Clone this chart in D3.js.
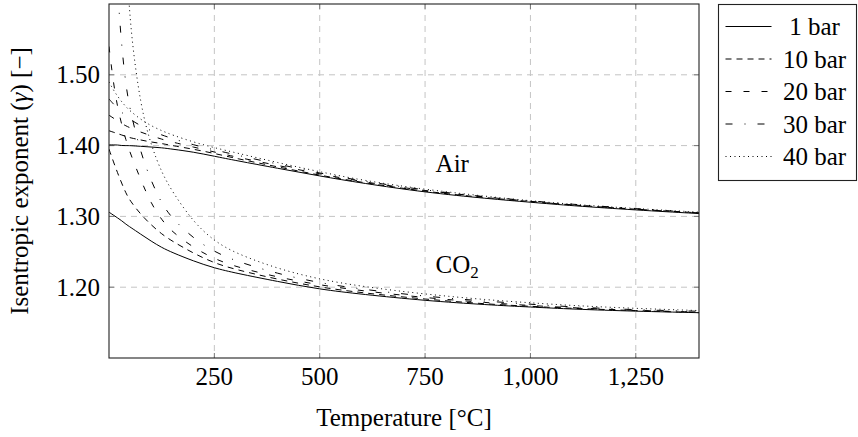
<!DOCTYPE html>
<html>
<head>
<meta charset="utf-8">
<script src="https://cdn.jsdelivr.net/npm/d3@7"></script>
<style>
    html, body { margin: 0; padding: 0; background: #fff; }
    svg text { font-family: "Liberation Serif", "DejaVu Serif", serif; }
</style>
</head>
<body>
<div id="app"></div>
<script>
// temperature grid [°C]
const temps = [0, 10, 20, 30, 40, 50, 75, 100, 125, 150, 200, 250, 300, 400, 500, 600, 750, 900, 1000, 1100, 1250, 1400];

// isentropic exponent of air
const air1 = [1.401, 1.401, 1.401, 1.400, 1.400, 1.400, 1.399, 1.398, 1.397, 1.395, 1.391, 1.385, 1.379, 1.368, 1.357, 1.347, 1.334, 1.325, 1.320, 1.315, 1.309, 1.304];
const air10 = [1.421, 1.419, 1.417, 1.415, 1.413, 1.411, 1.408, 1.405, 1.403, 1.400, 1.395, 1.389, 1.382, 1.370, 1.358, 1.348, 1.335, 1.326, 1.321, 1.316, 1.310, 1.305];
const air20 = [1.443, 1.439, 1.435, 1.431, 1.428, 1.425, 1.419, 1.414, 1.409, 1.405, 1.398, 1.391, 1.384, 1.372, 1.360, 1.349, 1.336, 1.327, 1.321, 1.316, 1.310, 1.305];
const air30 = [1.466, 1.459, 1.453, 1.447, 1.442, 1.437, 1.428, 1.421, 1.415, 1.410, 1.401, 1.394, 1.387, 1.374, 1.361, 1.350, 1.337, 1.327, 1.322, 1.317, 1.311, 1.305];
const air40 = [1.490, 1.479, 1.470, 1.462, 1.455, 1.449, 1.437, 1.428, 1.421, 1.415, 1.405, 1.397, 1.390, 1.376, 1.363, 1.351, 1.338, 1.328, 1.322, 1.317, 1.311, 1.306];

// isentropic exponent of CO2 (null = not in the data)
const co2_1 = [1.306, 1.302, 1.298, 1.294, 1.289, 1.285, 1.275, 1.265, 1.256, 1.249, 1.237, 1.227, 1.220, 1.208, 1.197, 1.190, 1.181, 1.175, 1.172, 1.169, 1.166, 1.164];
const co2_10 = [1.395, 1.378, 1.362, 1.347, 1.333, 1.322, 1.303, 1.288, 1.275, 1.265, 1.248, 1.234, 1.225, 1.211, 1.200, 1.192, 1.183, 1.176, 1.173, 1.170, 1.167, 1.164];
const co2_20 = [1.540, 1.490, 1.455, 1.430, 1.408, 1.390, 1.352, 1.318, 1.295, 1.278, 1.256, 1.240, 1.229, 1.214, 1.203, 1.195, 1.185, 1.178, 1.174, 1.171, 1.167, 1.165];
const co2_30 = [null, 1.750, 1.620, 1.540, 1.485, 1.450, 1.390, 1.350, 1.318, 1.297, 1.269, 1.250, 1.237, 1.219, 1.206, 1.197, 1.187, 1.180, 1.176, 1.172, 1.168, 1.166];
const co2_40 = [null, null, null, null, 1.680, 1.565, 1.455, 1.400, 1.362, 1.335, 1.292, 1.265, 1.248, 1.226, 1.211, 1.201, 1.190, 1.182, 1.178, 1.174, 1.170, 1.167];

const pressures = ["1 bar", "10 bar", "20 bar", "30 bar", "40 bar"];
const dashes = [null, "6,5", "6,12", "7,12,1,12", "1,3.5"];
const xTicks = [250, 500, 750, 1000, 1250];
const yTicks = [1.2, 1.3, 1.4, 1.5];

const airSeries = [air1, air10, air20, air30, air40];
const co2Series = [co2_1, co2_10, co2_20, co2_30, co2_40];

// dimensions
const W = 858, H = 437;
const margin = { top: 4, right: 159, bottom: 79, left: 109 };
const width = W - margin.left - margin.right;
const height = H - margin.top - margin.bottom;

const svg = d3.select("#app").append("svg")
    .attr("width", W)
    .attr("height", H);

const g = svg.append("g")
    .attr("transform", "translate(" + margin.left + "," + margin.top + ")");

const x = d3.scaleLinear().domain([0, 1400]).range([0, width]);
const y = d3.scaleLinear().domain([1.1, 1.6]).range([height, 0]);

svg.append("defs").append("clipPath").attr("id", "plotclip")
    .append("rect").attr("width", width).attr("height", height);

// grid
g.selectAll(".vgrid").data(xTicks).enter().append("line")
    .attr("x1", (d) => x(d)).attr("x2", (d) => x(d))
    .attr("y1", 0).attr("y2", height)
    .attr("stroke", "#c4c4c4").attr("stroke-dasharray", "6,5");
g.selectAll(".hgrid").data(yTicks).enter().append("line")
    .attr("y1", (d) => y(d)).attr("y2", (d) => y(d))
    .attr("x1", 0).attr("x2", width)
    .attr("stroke", "#c4c4c4").attr("stroke-dasharray", "6,5");

// tick marks inside on all sides
const tl = 5;
xTicks.forEach((t) => {
    g.append("line").attr("x1", x(t)).attr("x2", x(t)).attr("y1", height).attr("y2", height - tl).attr("stroke", "#777");
    g.append("line").attr("x1", x(t)).attr("x2", x(t)).attr("y1", 0).attr("y2", tl).attr("stroke", "#777");
});
yTicks.forEach((t) => {
    g.append("line").attr("y1", y(t)).attr("y2", y(t)).attr("x1", 0).attr("x2", tl).attr("stroke", "#777");
    g.append("line").attr("y1", y(t)).attr("y2", y(t)).attr("x1", width).attr("x2", width - tl).attr("stroke", "#777");
});

// curves
const line = d3.line()
    .defined((d) => d[1] != null)
    .x((d) => x(d[0]))
    .y((d) => y(d[1]))
    .curve(d3.curveBasis);

const plot = g.append("g").attr("clip-path", "url(#plotclip)");
[airSeries, co2Series].forEach((group) => {
    group.forEach((vals, i) => {
        plot.append("path")
            .datum(temps.map((t, j) => [t, vals[j]]))
            .attr("d", line)
            .attr("fill", "none")
            .attr("stroke", "#000")
            .attr("stroke-width", 1)
            .attr("stroke-dasharray", dashes[i]);
    });
});

// gas labels
g.append("text").attr("x", x(775)).attr("y", y(1.363))
    .attr("font-size", 25).text("Air");
const co2Label = g.append("text").attr("x", x(775)).attr("y", y(1.220))
    .attr("font-size", 25);
co2Label.append("tspan").text("CO");
co2Label.append("tspan").attr("font-size", 17).attr("dy", 5).text("2");

// frame
g.append("rect").attr("width", width).attr("height", height)
    .attr("fill", "none").attr("stroke", "#222").attr("stroke-width", 1.1);

// tick labels
g.selectAll(".xlab").data(xTicks).enter().append("text")
    .attr("x", (d) => x(d)).attr("y", height + 27)
    .attr("text-anchor", "middle").attr("font-size", 25)
    .text((d) => d3.format(",")(d));
g.selectAll(".ylab").data(yTicks).enter().append("text")
    .attr("x", -9).attr("y", (d) => y(d) + 8.5)
    .attr("text-anchor", "end").attr("font-size", 25)
    .text((d) => d3.format(".2f")(d));

// axis titles
g.append("text").attr("x", width / 2).attr("y", height + 68)
    .attr("text-anchor", "middle").attr("font-size", 25)
    .text("Temperature [°C]");
const yTitle = g.append("text")
    .attr("transform", "translate(" + (28 - margin.left) + "," + height / 2 + ") rotate(-90)")
    .attr("text-anchor", "middle").attr("font-size", 25);
yTitle.append("tspan").text("Isentropic exponent (");
yTitle.append("tspan").attr("font-style", "italic").text("γ");
yTitle.append("tspan").text(") [−]");

// legend
const lg = svg.append("g").attr("transform", "translate(718.5,4.5)");
lg.append("rect").attr("width", 138).attr("height", 176)
    .attr("fill", "#fff").attr("stroke", "#222").attr("stroke-width", 1.1);
pressures.forEach((p, i) => {
    const cy = 22 + i * 32.5;
    lg.append("line").attr("x1", 7).attr("x2", 53).attr("y1", cy).attr("y2", cy)
        .attr("stroke", "#000").attr("stroke-width", 1)
        .attr("stroke-dasharray", dashes[i]);
    lg.append("text").attr("x", 96).attr("y", cy + 8.5)
        .attr("text-anchor", "middle").attr("font-size", 25).text(p);
});
</script>
</body>
</html>
